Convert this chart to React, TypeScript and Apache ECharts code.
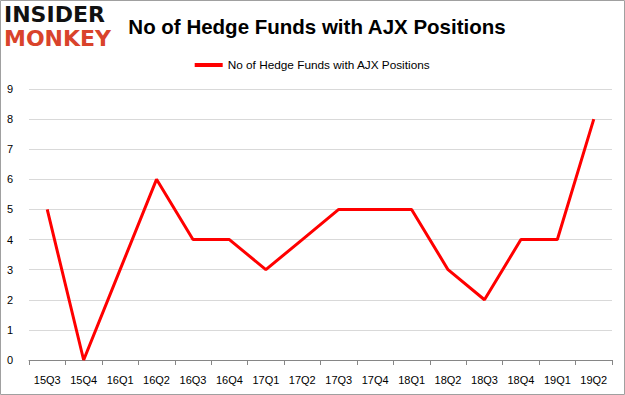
import React, { useEffect, useRef } from "react";
import * as echarts from "echarts";

const categories = ["15Q3","15Q4","16Q1","16Q2","16Q3","16Q4","17Q1","17Q2","17Q3","17Q4","18Q1","18Q2","18Q3","18Q4","19Q1","19Q2"];
const values = [5,0,3,6,4,4,3,4,5,5,5,3,2,4,4,8];
const seriesName = "No of Hedge Funds with AJX Positions";
const title = "No of Hedge Funds with AJX Positions";

export default function App() {
  const ref = useRef<HTMLDivElement>(null);
  useEffect(() => {
    const chart = echarts.init(ref.current!, null, { renderer: "svg" });
    chart.setOption({
      animation: false,
      backgroundColor: "#ffffff",
      title: {
        text: title,
        left: 312,
        textAlign: "center",
        top: 11,
        textStyle: { fontFamily: "Liberation Sans", fontSize: 20.5, fontWeight: "bold", color: "#000" },
      },
      legend: {
        top: 54,
        left: "center",
        itemWidth: 28,
        itemHeight: 4,
        icon: "rect",
        itemGap: 5,
        textStyle: { fontFamily: "Liberation Sans", fontSize: 11.8, color: "#000" },
        data: [seriesName],
      },
      graphic: [
        { type: "rect", shape: { x: 0.5, y: 0.5, width: 624, height: 394 }, style: { fill: "none", stroke: "#a0a0a0", lineWidth: 1 } },
        { type: "text", x: 4, y: 3, style: { text: "INSIDER", fontFamily: "DejaVu Sans", fontWeight: "bold", fontSize: 22, fill: "#111" } },
        { type: "text", x: 4, y: 27, style: { text: "MONKEY", fontFamily: "DejaVu Sans", fontWeight: "bold", fontSize: 22, fill: "#d9432b" } },
      ],
      grid: { left: 29, right: 13, top: 89, bottom: 35 },
      xAxis: {
        type: "category",
        data: categories,
        boundaryGap: true,
        axisLine: { lineStyle: { color: "#868686" } },
        axisTick: { show: true, length: 5, lineStyle: { color: "#868686" } },
        axisLabel: { fontFamily: "Liberation Sans", fontSize: 11, color: "#000", margin: 14 },
      },
      yAxis: {
        type: "value",
        min: 0,
        max: 9,
        interval: 1,
        axisLine: { show: false },
        axisTick: { show: false },
        axisLabel: { fontFamily: "Liberation Sans", fontSize: 11, color: "#000", margin: 16 },
        splitLine: { lineStyle: { color: "#d9d9d9" } },
      },
      series: [
        {
          name: seriesName,
          type: "line",
          data: values,
          symbol: "none",
          lineStyle: { color: "#ff0000", width: 3 },
          itemStyle: { color: "#ff0000" },
        },
      ],
    });
    return () => chart.dispose();
  }, []);
  return <div ref={ref} style={{ position: "fixed", left: 0, top: 0, width: 625, height: 395 }} />;
}
